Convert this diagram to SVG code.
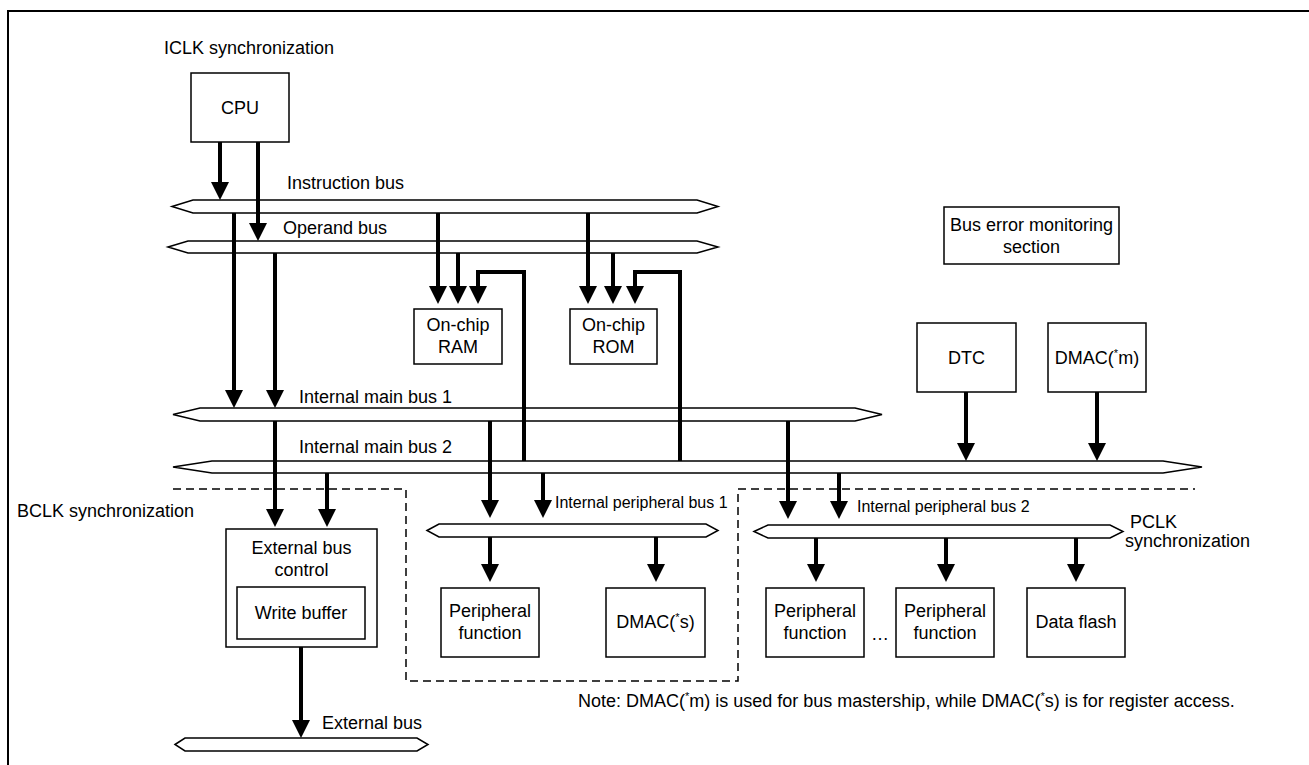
<svg xmlns="http://www.w3.org/2000/svg" width="1309" height="765" viewBox="0 0 1309 765">
  <style>
    text { font-family: "Liberation Sans", Arial, sans-serif; font-size: 18px; fill: #000; }
    .c { text-anchor: middle; }
    .sm { font-size: 16px; }
    .sup { font-size: 11px; }
    .box { fill: #fff; stroke: #000; stroke-width: 1.5; }
    .bus { fill: #fff; stroke: #000; stroke-width: 1.5; stroke-linejoin: miter; }
    .arr { fill: none; stroke: #000; stroke-width: 4; marker-end: url(#head); }
    .dash { fill: none; stroke: #000; stroke-width: 1.5; stroke-dasharray: 8 5; }
  </style>
  <defs>
    <marker id="head" markerUnits="userSpaceOnUse" markerWidth="18" markerHeight="18" refX="10" refY="9" orient="auto" viewBox="0 0 18 18">
      <path d="M0,0 L18,9 L0,18 Z" fill="#000"/>
    </marker>
  </defs>

  <rect width="1309" height="765" fill="#fff"/>
  <!-- outer frame -->
  <rect x="8" y="11" width="1400" height="900" fill="none" stroke="#000" stroke-width="2"/>

  <!-- clock domain boundary -->
  <path class="dash" d="M173,489 H406 V681 H738 V489 H1195"/>

  <!-- buses -->
  <g id="buses">
    <polygon id="instruction-bus" class="bus" points="172,206.5 193,200 697,200 718,206.5 697,213 193,213"/>
    <polygon id="operand-bus" class="bus" points="168,247 188,241 697,241 718,247 697,253 188,253"/>
    <polygon id="main-bus-1" class="bus" points="173,414.5 200,408 855,408 882,414.5 855,421 200,421"/>
    <polygon id="main-bus-2" class="bus" points="173,467 212,461 1163,461 1202,467 1163,473 212,473"/>
    <polygon id="peripheral-bus-1" class="bus" points="427,530.5 439,524 706,524 718,530.5 706,537 439,537"/>
    <polygon id="peripheral-bus-2" class="bus" points="754,531.5 768,525 1110,525 1123,531.5 1110,538 768,538"/>
    <polygon id="external-bus" class="bus" points="175,744.5 185,738 417,738 428,744.5 417,751 185,751"/>
  </g>

  <!-- connectors -->
  <g id="connectors">
    <path class="arr" d="M220,142 V192"/>
    <path class="arr" d="M258,142 V233"/>
    <path class="arr" d="M234,213 V400"/>
    <path class="arr" d="M275,253 V400"/>
    <path class="arr" d="M438,213 V296"/>
    <path class="arr" d="M458,253 V296"/>
    <path class="arr" d="M524,461 V272 H478 V296"/>
    <path class="arr" d="M588,213 V296"/>
    <path class="arr" d="M613,253 V296"/>
    <path class="arr" d="M680,461 V272 H635 V296"/>
    <path class="arr" d="M275,421 V519"/>
    <path class="arr" d="M327,473 V519"/>
    <path class="arr" d="M301,639 V730"/>
    <path class="arr" d="M490,421 V510"/>
    <path class="arr" d="M543,473 V510"/>
    <path class="arr" d="M490,537 V574"/>
    <path class="arr" d="M656,537 V574"/>
    <path class="arr" d="M788,421 V511"/>
    <path class="arr" d="M839,473 V511"/>
    <path class="arr" d="M816,538 V574"/>
    <path class="arr" d="M946,538 V574"/>
    <path class="arr" d="M1076,538 V574"/>
    <path class="arr" d="M966,392 V453"/>
    <path class="arr" d="M1097,392 V453"/>
  </g>

  <!-- nodes -->
  <g id="cpu">
    <rect class="box" x="191" y="73" width="98" height="69"/>
    <text class="c" x="240" y="114">CPU</text>
  </g>
  <g id="on-chip-ram">
    <rect class="box" x="414" y="309" width="88" height="55"/>
    <text class="c" x="458" y="331">On-chip</text>
    <text class="c" x="458" y="353">RAM</text>
  </g>
  <g id="on-chip-rom">
    <rect class="box" x="570" y="309" width="87" height="55"/>
    <text class="c" x="613.5" y="331">On-chip</text>
    <text class="c" x="613.5" y="353">ROM</text>
  </g>
  <g id="bus-error-monitor">
    <rect class="box" x="944" y="207" width="175" height="57"/>
    <text class="c" x="1031.5" y="231">Bus error monitoring</text>
    <text class="c" x="1031.5" y="253">section</text>
  </g>
  <g id="dtc">
    <rect class="box" x="917" y="323" width="99" height="69"/>
    <text class="c" x="966.5" y="364">DTC</text>
  </g>
  <g id="dmac-m">
    <rect class="box" x="1048" y="323" width="98" height="69"/>
    <text class="c" x="1097" y="364">DMAC(<tspan class="sup" dy="-7">*</tspan><tspan dy="7">m)</tspan></text>
  </g>
  <g id="external-bus-control">
    <rect class="box" x="226" y="529" width="151" height="118"/>
    <text class="c" x="301.5" y="554">External bus</text>
    <text class="c" x="301.5" y="576">control</text>
  </g>
  <g id="write-buffer">
    <rect class="box" x="237" y="587" width="128" height="52"/>
    <text class="c" x="301" y="619">Write buffer</text>
  </g>
  <g id="peripheral-function-a">
    <rect class="box" x="441" y="588" width="98" height="69"/>
    <text class="c" x="490" y="617">Peripheral</text>
    <text class="c" x="490" y="639">function</text>
  </g>
  <g id="dmac-s">
    <rect class="box" x="606" y="588" width="99" height="69"/>
    <text class="c" x="655.5" y="628">DMAC(<tspan class="sup" dy="-7">*</tspan><tspan dy="7">s)</tspan></text>
  </g>
  <g id="peripheral-function-b">
    <rect class="box" x="766" y="588" width="98" height="69"/>
    <text class="c" x="815" y="617">Peripheral</text>
    <text class="c" x="815" y="639">function</text>
  </g>
  <g id="peripheral-function-c">
    <rect class="box" x="896" y="588" width="98" height="69"/>
    <text class="c" x="945" y="617">Peripheral</text>
    <text class="c" x="945" y="639">function</text>
  </g>
  <g id="data-flash">
    <rect class="box" x="1027" y="588" width="98" height="69"/>
    <text class="c" x="1076" y="628">Data flash</text>
  </g>

  <!-- labels -->
  <g id="labels">
    <text x="164" y="54">ICLK synchronization</text>
    <text x="287" y="189">Instruction bus</text>
    <text x="283" y="234">Operand bus</text>
    <text x="299" y="403">Internal main bus 1</text>
    <text x="299" y="453">Internal main bus 2</text>
    <text x="17" y="517">BCLK synchronization</text>
    <text class="sm" x="555" y="508">Internal peripheral bus 1</text>
    <text class="sm" x="857" y="512">Internal peripheral bus 2</text>
    <text x="1130" y="528">PCLK</text>
    <text x="1125" y="547">synchronization</text>
    <text class="c" x="880" y="640">…</text>
    <text x="322" y="729">External bus</text>
    <text x="578" y="707">Note: DMAC(<tspan class="sup" dy="-7">*</tspan><tspan dy="7">m) is used for bus mastership, while DMAC(</tspan><tspan class="sup" dy="-7">*</tspan><tspan dy="7">s) is for register access.</tspan></text>
  </g>
</svg>
